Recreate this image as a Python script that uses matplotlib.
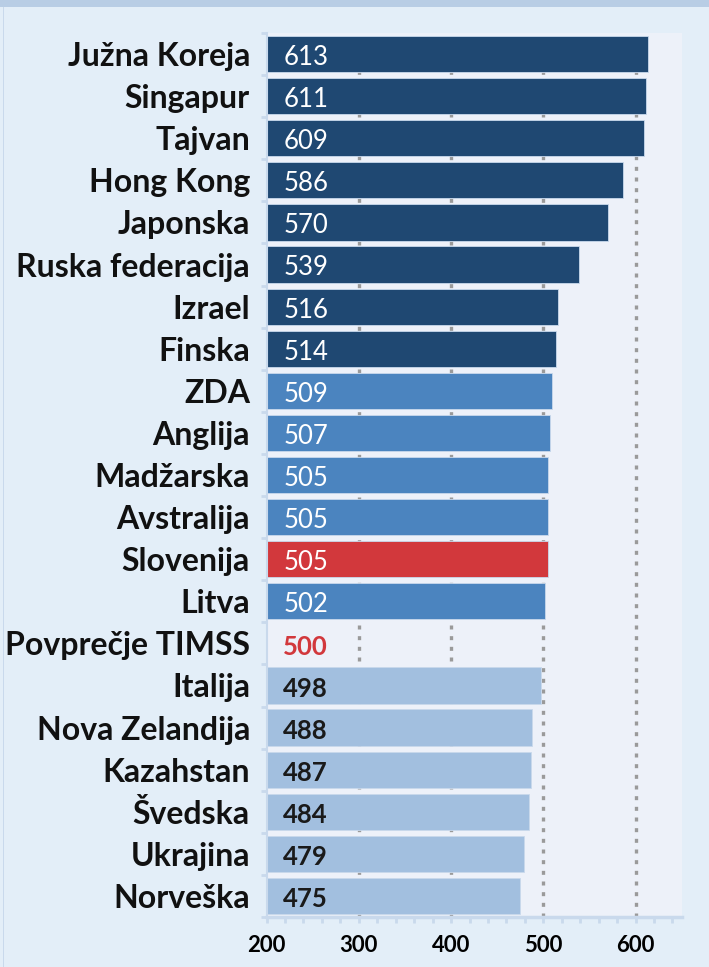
import matplotlib
matplotlib.use("Agg")
import matplotlib.pyplot as plt
import matplotlib.transforms as mtransforms
from matplotlib.patches import Rectangle
from matplotlib.ticker import MultipleLocator, FixedLocator

# TIMSS results, top to bottom
countries = ["Južna Koreja", "Singapur", "Tajvan", "Hong Kong", "Japonska",
             "Ruska federacija", "Izrael", "Finska", "ZDA", "Anglija",
             "Madžarska", "Avstralija", "Slovenija", "Litva", "Povprečje TIMSS",
             "Italija", "Nova Zelandija", "Kazahstan", "Švedska", "Ukrajina",
             "Norveška"]
scores = [613, 611, 609, 586, 570, 539, 516, 514, 509, 507, 505, 505, 505,
          502, 500, 498, 488, 487, 484, 479, 475]
groups = ["top"] * 8 + ["mid"] * 4 + ["slo", "mid", "avg"] + ["low"] * 6

bar_col = {"top": "#1f4872", "mid": "#4b84bf", "slo": "#d2383c",
           "low": "#a2bfdf", "avg": None}
txt_col = {"top": "white", "mid": "white", "slo": "white",
           "low": "#1a1a1a", "avg": "#d2383c"}

plt.rcParams['font.family'] = ['Lato', 'DejaVu Sans']

fig = plt.figure(figsize=(7.09, 9.67), dpi=100)
fig.patch.set_facecolor("#e3eef8")
# frame bits of the original screenshot
fig.patches.append(Rectangle((0, 0.993), 1, 0.007, transform=fig.transFigure,
                             facecolor="#b8cde5", edgecolor="none"))
fig.patches.append(Rectangle((0.004, 0), 0.002, 0.993, transform=fig.transFigure,
                             facecolor="#c9d9ec", edgecolor="none"))

ax = fig.add_axes([0.376, 0.0517, 0.5855, 0.9142])
ax.set_facecolor("#edf1f9")

for xv in [300, 400, 500, 600]:
    ax.axvline(xv, color="#9a9a9a", lw=2.4, ls=(0, (1.2, 2.0)), zorder=1)

# text sits a touch below bar centre in the original
down = mtransforms.ScaledTranslation(0, -2.5 / 72, fig.dpi_scale_trans)

for i, (s, g) in enumerate(zip(scores, groups)):
    if bar_col[g] is not None:
        ax.barh(i, s - 200, left=200, height=0.86, color=bar_col[g],
                edgecolor="#c9d9ec", linewidth=0.6, zorder=2)
    ax.text(218, i, str(s), color=txt_col[g], va="center", ha="left",
            fontsize=18.5, fontweight="bold" if g in ("low", "avg") else "normal",
            zorder=3, transform=ax.transData + down)

ax.set_xlim(200, 650)
ax.set_ylim(len(countries) - 0.5, -0.5)
ax.set_yticks(range(len(countries)))
ax.set_yticklabels(countries, fontsize=23, fontweight="bold", color="#111111")
for lab in ax.get_yticklabels():
    lab.set_transform(lab.get_transform() + down)
ax.yaxis.set_minor_locator(FixedLocator([i + 0.5 for i in range(-1, len(countries))]))
ax.tick_params(axis="y", which="major", length=0, pad=12)
ax.tick_params(axis="y", which="minor", length=4, width=2, color="#c9d9ec")

ax.set_xticks([200, 300, 400, 500, 600])
ax.xaxis.set_minor_locator(MultipleLocator(20))
ax.tick_params(axis="x", which="major", length=4, width=2, color="#c9d9ec",
               labelsize=16, pad=9)
ax.tick_params(axis="x", which="minor", length=4, width=2, color="#c9d9ec")
for lab in ax.get_xticklabels():
    lab.set_fontweight("bold")

for sp in ["top", "right"]:
    ax.spines[sp].set_visible(False)
ax.spines["left"].set_color("#c9d9ec")
ax.spines["left"].set_linewidth(1.5)
ax.spines["bottom"].set_color("#c9d9ec")
ax.spines["bottom"].set_linewidth(2.5)

fig.savefig("out.png", dpi=100, facecolor=fig.get_facecolor())
